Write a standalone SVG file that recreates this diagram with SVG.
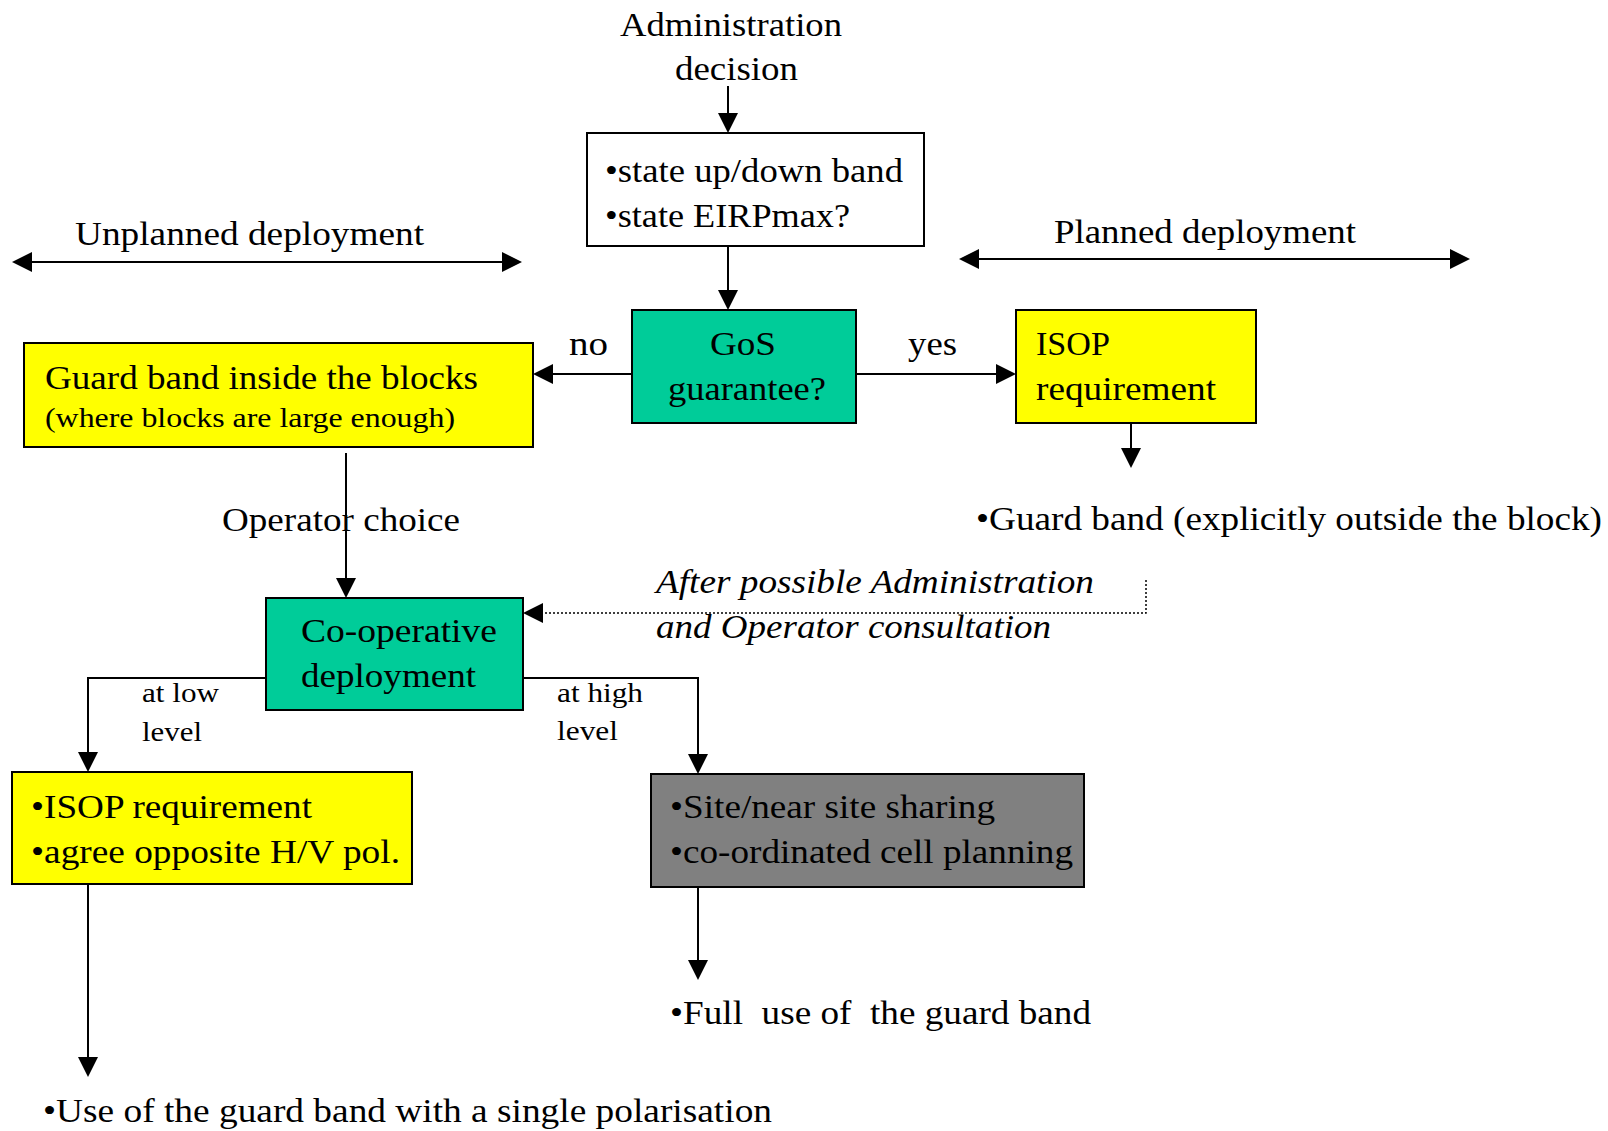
<svg xmlns="http://www.w3.org/2000/svg" width="1608" height="1131" viewBox="0 0 1608 1131">
<style>
text{font-family:"Liberation Serif","Times New Roman",serif;font-size:34px;fill:#000}
.s{font-size:28px}
.i{font-style:italic}
.box{stroke:#000;stroke-width:2}
.c{fill:none;stroke:#000;stroke-width:2}
.d{fill:none;stroke:#000;stroke-width:1.5;stroke-dasharray:2,2}
</style>
<defs>
<marker id="ah" markerUnits="userSpaceOnUse" markerWidth="20" markerHeight="20" refX="18" refY="10" orient="auto-start-reverse" viewBox="0 0 20 20">
<path d="M0,0 L20,10 L0,20 z" fill="#000"/>
</marker>
</defs>
<rect width="1608" height="1131" fill="#fff"/>
<g id="connectors">
<line class="c" x1="728" y1="86" x2="728" y2="131" marker-end="url(#ah)"/>
<line class="c" x1="728" y1="246" x2="728" y2="308" marker-end="url(#ah)"/>
<line class="c" x1="632" y1="374" x2="535" y2="374" marker-end="url(#ah)"/>
<line class="c" x1="856" y1="374" x2="1014" y2="374" marker-end="url(#ah)"/>
<line class="c" x1="1131" y1="423" x2="1131" y2="466" marker-end="url(#ah)"/>
<line class="c" x1="14" y1="262" x2="520" y2="262" marker-start="url(#ah)" marker-end="url(#ah)"/>
<line class="c" x1="961" y1="259" x2="1468" y2="259" marker-start="url(#ah)" marker-end="url(#ah)"/>
<line class="c" x1="346" y1="453" x2="346" y2="596" marker-end="url(#ah)"/>
<polyline class="d" points="1146,580 1146,613 525,613" marker-end="url(#ah)"/>
<polyline class="c" points="266,678 88,678 88,770" marker-end="url(#ah)"/>
<polyline class="c" points="523,678 698,678 698,772" marker-end="url(#ah)"/>
<line class="c" x1="88" y1="884" x2="88" y2="1075" marker-end="url(#ah)"/>
<line class="c" x1="698" y1="887" x2="698" y2="978" marker-end="url(#ah)"/>
</g>
<g id="admin-label">
<text x="620" y="36" textLength="222" lengthAdjust="spacingAndGlyphs">Administration</text>
<text x="675" y="80" textLength="123" lengthAdjust="spacingAndGlyphs">decision</text>
</g>
<g id="state-box">
<rect class="box" x="587" y="133" width="337" height="113" fill="#fff"/>
<text x="605" y="182" textLength="298" lengthAdjust="spacingAndGlyphs">•state up/down band</text>
<text x="605" y="227" textLength="245" lengthAdjust="spacingAndGlyphs">•state EIRPmax?</text>
</g>
<g id="unplanned">
<text x="75" y="245" textLength="349" lengthAdjust="spacingAndGlyphs">Unplanned deployment</text>
</g>
<g id="planned">
<text x="1054" y="243" textLength="302" lengthAdjust="spacingAndGlyphs">Planned deployment</text>
</g>
<g id="gos">
<rect class="box" x="632" y="310" width="224" height="113" fill="#00CC99"/>
<text x="710" y="355" textLength="66" lengthAdjust="spacingAndGlyphs">GoS</text>
<text x="668" y="400" textLength="158" lengthAdjust="spacingAndGlyphs">guarantee?</text>
</g>
<g id="label-no"><text x="569" y="355" textLength="39" lengthAdjust="spacingAndGlyphs">no</text></g>
<g id="label-yes"><text x="908" y="355" textLength="49" lengthAdjust="spacingAndGlyphs">yes</text></g>
<g id="guard-inside">
<rect class="box" x="24" y="343" width="509" height="104" fill="#FFFF00"/>
<text x="45" y="389" textLength="433" lengthAdjust="spacingAndGlyphs">Guard band inside the blocks</text>
<text class="s" x="45" y="427" textLength="410" lengthAdjust="spacingAndGlyphs">(where blocks are large enough)</text>
</g>
<g id="isop">
<rect class="box" x="1016" y="310" width="240" height="113" fill="#FFFF00"/>
<text x="1036" y="355" textLength="74" lengthAdjust="spacingAndGlyphs">ISOP</text>
<text x="1036" y="400" textLength="180" lengthAdjust="spacingAndGlyphs">requirement</text>
</g>
<g id="guard-outside">
<text x="976" y="530" textLength="626" lengthAdjust="spacingAndGlyphs">•Guard band (explicitly outside the block)</text>
</g>
<g id="operator-choice">
<text x="222" y="531" textLength="238" lengthAdjust="spacingAndGlyphs">Operator choice</text>
</g>
<g id="consultation">
<text class="i" x="656" y="593" textLength="438" lengthAdjust="spacingAndGlyphs">After possible Administration</text>
<text class="i" x="656" y="638" textLength="395" lengthAdjust="spacingAndGlyphs">and Operator consultation</text>
</g>
<g id="coop">
<rect class="box" x="266" y="598" width="257" height="112" fill="#00CC99"/>
<text x="301" y="642" textLength="196" lengthAdjust="spacingAndGlyphs">Co-operative</text>
<text x="301" y="687" textLength="175" lengthAdjust="spacingAndGlyphs">deployment</text>
</g>
<g id="label-low">
<text class="s" x="142" y="702" textLength="77" lengthAdjust="spacingAndGlyphs">at low</text>
<text class="s" x="142" y="741" textLength="60" lengthAdjust="spacingAndGlyphs">level</text>
</g>
<g id="label-high">
<text class="s" x="557" y="702" textLength="86" lengthAdjust="spacingAndGlyphs">at high</text>
<text class="s" x="557" y="740" textLength="61" lengthAdjust="spacingAndGlyphs">level</text>
</g>
<g id="isop-hv">
<rect class="box" x="12" y="772" width="400" height="112" fill="#FFFF00"/>
<text x="31" y="818" textLength="281" lengthAdjust="spacingAndGlyphs">•ISOP requirement</text>
<text x="31" y="863" textLength="369" lengthAdjust="spacingAndGlyphs">•agree opposite H/V pol.</text>
</g>
<g id="site-sharing">
<rect class="box" x="651" y="774" width="433" height="113" fill="#808080"/>
<text x="670" y="818" textLength="325" lengthAdjust="spacingAndGlyphs">•Site/near site sharing</text>
<text x="670" y="863" textLength="403" lengthAdjust="spacingAndGlyphs">•co-ordinated cell planning</text>
</g>
<g id="full-use">
<text x="670" y="1024" textLength="421" lengthAdjust="spacingAndGlyphs" xml:space="preserve">•Full  use of  the guard band</text>
</g>
<g id="single-pol">
<text x="43" y="1122" textLength="729" lengthAdjust="spacingAndGlyphs">•Use of the guard band with a single polarisation</text>
</g>
</svg>
